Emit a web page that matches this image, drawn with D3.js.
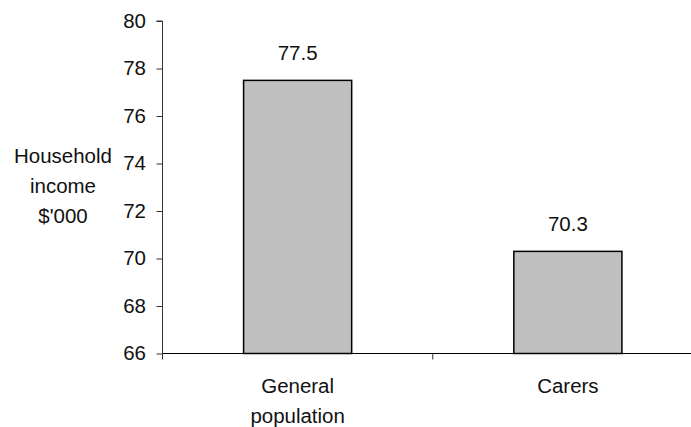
<!DOCTYPE html>
<html>
<head>
<meta charset="utf-8">
<script src="https://cdn.jsdelivr.net/npm/d3@7/dist/d3.min.js"></script>
<style>
  html, body { margin: 0; padding: 0; background: #fff; }
  svg { display: block; font-family: "Liberation Sans", Arial, sans-serif; }
</style>
</head>
<body>
<svg id="chart" width="691" height="427"></svg>
<script>
// Average household income, general population vs carers
const categories = [["General", "population"], ["Carers"]];
const values = [77.5, 70.3];
const yTicks = [66, 68, 70, 72, 74, 76, 78, 80];
const yTitle = ["Household", "income", "$'000"];

const svg = d3.select("#chart");
const plot = { left: 162.5, right: 703, top: 21, bottom: 353.5 };
const FS = 19.5;     // font size
const SX = 1.05;     // horizontal text stretch

const x = d3.scaleBand()
  .domain(d3.range(categories.length))
  .range([plot.left, plot.right])
  .paddingInner(0.6)
  .paddingOuter(0.3);

const band = (plot.right - plot.left) / categories.length;

const y = d3.scaleLinear().domain([66, 80]).range([plot.bottom, plot.top]);

// Draws text at (cx, baseline) with slightly wide letterforms
function label(parent, cx, by, str, anchor = "middle") {
  return parent.append("text")
    .attr("transform", `translate(${cx},${by}) scale(${SX},1)`)
    .attr("text-anchor", anchor)
    .attr("font-size", FS)
    .attr("fill", "#111")
    .text(str);
}

const g = svg.append("g");

// Bars
g.selectAll("rect.bar")
  .data(values)
  .enter().append("rect")
  .attr("class", "bar")
  .attr("x", (d, i) => x(i))
  .attr("width", x.bandwidth())
  .attr("y", d => y(d))
  .attr("height", d => y(66) - y(d))
  .attr("fill", "#c0c0c0")
  .attr("stroke", "#000")
  .attr("stroke-width", 1.5);

// Value labels
values.forEach((d, i) => {
  label(g, x(i) + x.bandwidth() / 2, y(d) - 20.5, d.toFixed(1));
});

// Y axis
const yAxis = d3.axisLeft(y)
  .tickValues(yTicks)
  .tickSize(6)
  .tickPadding(11)
  .tickFormat(d3.format("d"));
const ya = svg.append("g")
  .attr("transform", `translate(${plot.left},0)`)
  .call(yAxis);
ya.select(".domain").attr("stroke", "#333").attr("d", `M-6,${plot.top}H0V${plot.bottom}`);
ya.selectAll(".tick line").attr("stroke", "#333");
ya.selectAll(".tick text")
  .attr("x", -16.5 / SX)
  .attr("transform", `scale(${SX},1)`)
  .attr("font-size", FS)
  .attr("font-family", "Liberation Sans, Arial, sans-serif")
  .attr("fill", "#111");

// X axis: line with ticks at category boundaries
const xa = svg.append("g");
xa.append("line")
  .attr("x1", plot.left).attr("x2", plot.right)
  .attr("y1", plot.bottom).attr("y2", plot.bottom)
  .attr("stroke", "#000").attr("stroke-width", 1);
xa.selectAll("line.tick")
  .data(d3.range(categories.length))
  .enter().append("line")
  .attr("class", "tick")
  .attr("x1", i => plot.left + i * band).attr("x2", i => plot.left + i * band)
  .attr("y1", plot.bottom).attr("y2", plot.bottom + 6)
  .attr("stroke", "#333");

// Category labels
categories.forEach((lines, i) => {
  lines.forEach((ln, j) => {
    label(xa, x(i) + x.bandwidth() / 2, 393 + j * 30, ln);
  });
});

// Y title
yTitle.forEach((ln, j) => {
  label(svg, 63, 163 + j * 30, ln);
});
</script>
</body>
</html>
